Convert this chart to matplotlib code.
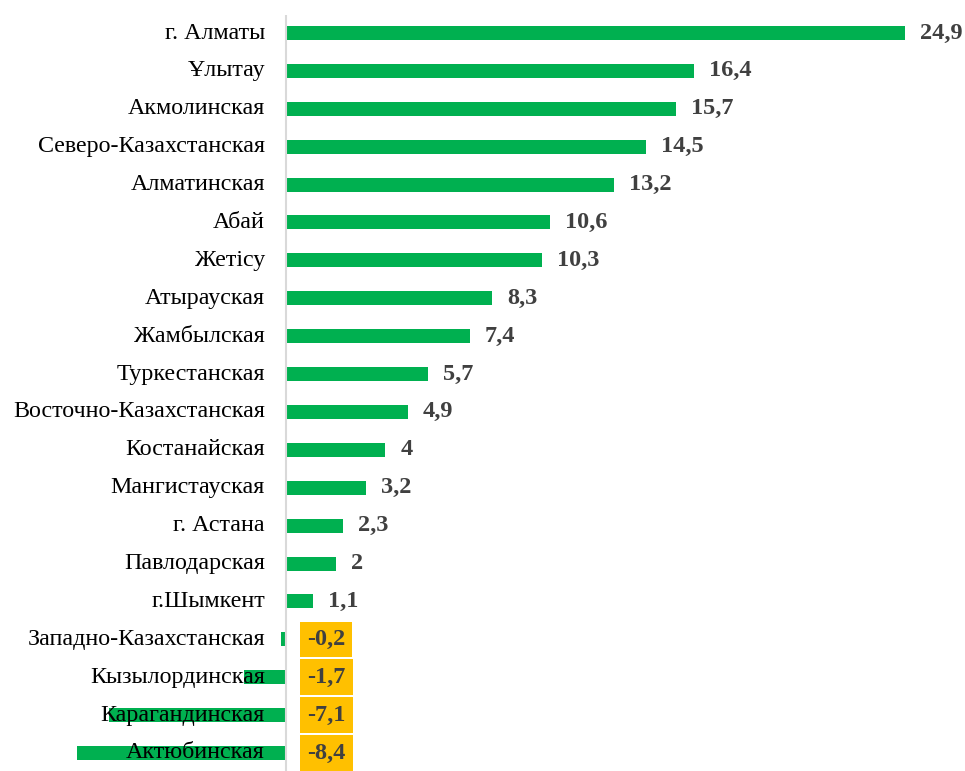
import matplotlib
matplotlib.use('Agg')
import matplotlib.pyplot as plt

regions = ["г. Алматы", "Ұлытау", "Акмолинская", "Северо-Казахстанская",
           "Алматинская", "Абай", "Жетісу", "Атырауская", "Жамбылская",
           "Туркестанская", "Восточно-Казахстанская", "Костанайская",
           "Мангистауская", "г. Астана", "Павлодарская", "г.Шымкент",
           "Западно-Казахстанская", "Кызылординская", "Карагандинская",
           "Актюбинская"]
values = [24.9, 16.4, 15.7, 14.5, 13.2, 10.6, 10.3, 8.3, 7.4, 5.7,
          4.9, 4, 3.2, 2.3, 2, 1.1, -0.2, -1.7, -7.1, -8.4]

plt.rcParams['font.family'] = ['Liberation Serif', 'DejaVu Serif']

fig = plt.figure(figsize=(9.65, 7.71), dpi=100)
ax = fig.add_axes([0, 0, 1, 756 / 771])

ypos = list(range(len(values)))
ax.barh(ypos, values, height=0.37, color='#00B050', zorder=1)

ax.set_xlim(-11.5, 27.31)
ax.set_ylim(19.475, -0.475)
ax.axvline(0, color='#D9D9D9', lw=1.5, zorder=2)
ax.axis('off')


def fmt(v):
    s = str(int(v)) if float(v).is_integer() else str(v)
    return s.replace('.', ',')


for y, name, v in zip(ypos, regions, values):
    ax.annotate(name, (0, y), xytext=(-21, 0), textcoords='offset pixels',
                ha='right', va='center', fontsize=17.3, color='black', zorder=3)
    if v >= 0:
        ax.annotate(fmt(v), (v, y), xytext=(15, 0), textcoords='offset pixels',
                    ha='left', va='center', fontsize=17.5, fontweight='bold',
                    color='#404040', zorder=3)
    else:
        ax.annotate(fmt(v), (0, y), xytext=(21, 0), textcoords='offset pixels',
                    ha='left', va='center', fontsize=17.5, fontweight='bold',
                    color='#404040', zorder=3,
                    bbox=dict(boxstyle='square,pad=0.3', fc='#FFC000', ec='none'))

fig.savefig('out.png', dpi=100)
